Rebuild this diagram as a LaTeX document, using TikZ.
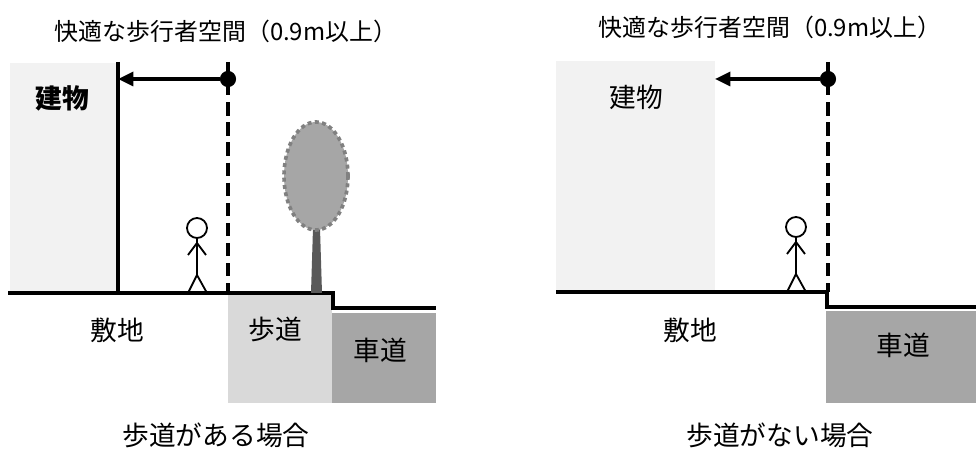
\documentclass[tikz,border=0pt]{standalone}
\usepackage{fontspec}
\setmainfont{Noto Sans CJK JP}
\usepackage{xcolor}
\usetikzlibrary{arrows.meta}

\definecolor{bldg}{HTML}{F2F2F2}
\definecolor{sidewalk}{HTML}{D9D9D9}
\definecolor{road}{HTML}{A6A6A6}
\definecolor{leaf}{HTML}{A6A6A6}
\definecolor{leafedge}{HTML}{808080}
\definecolor{bark}{HTML}{595959}

\tikzset{
	walker/.pic={
		\draw[man] (0,0) circle[radius=10];
		\draw[man] (0,10) -- (0,47) (-9,27) -- (0,15) -- (9,27) (-9,65) -- (0,47) -- (10,65);
	}
}

\begin{document}
\begin{tikzpicture}[x=0.025cm, y=-0.025cm,
	lbl/.style={font=\fontsize{19pt}{22pt}\selectfont, inner sep=0pt},
	ttl/.style={font=\fontsize{17pt}{20pt}\selectfont, inner sep=0pt},
	wall/.style={line width=2.2pt},
	grnd/.style={line width=2.2pt},
	limit/.style={line width=2.4pt, dash pattern=on 9.5pt off 4.8pt},
	walk/.style={line width=2.2pt, -{Triangle[length=11pt, width=10pt]}},
	pin/.style={circle, fill=black, inner sep=0pt, minimum size=11.5pt},
	man/.style={line width=1.3pt},
	crown/.style={fill=leaf, draw=leafedge, line width=2.6pt, dash pattern=on 2.8pt off 2.4pt},
]
	\useasboundingbox (0,0) rectangle (976,451);

	% with a sidewalk
	\fill[bldg] (10,63) rectangle (118,293);
	\fill[sidewalk] (228,293) rectangle (332,403);
	\fill[road] (332,313) rectangle (436,403);
	\draw[wall] (118,62) -- (118,293);
	\draw[limit] (228,62) -- (228,293);
	\draw[grnd] (8,293) -- (333,293) -- (333,308) -- (436,308);

	\fill[bark] (313,228) -- (320,228) -- (322,293) -- (311,293) -- cycle;
	\draw[crown] (316,176) ellipse [x radius=32, y radius=54];

	\pic at (197,228) {walker};

	\node[pin] (dotL) at (228,79) {};
	\coordinate (wallL) at (118,79);
	\draw[walk] (dotL) -- (wallL);

	\node[ttl] (titleL) at (226,31) {快適な歩行者空間（0.9m以上）};
	\node[lbl] (bldgL) at (62,98) {\bfseries 建物};
	\node[lbl] (siteL) at (117,330) {敷地};
	\node[lbl] (sidewalkL) at (275,329) {歩道};
	\node[lbl] (roadL) at (380,350) {車道};
	\node[lbl] (capL) at (216,435) {歩道がある場合};

	% without a sidewalk
	\fill[bldg] (556,61) rectangle (715,292);
	\fill[road] (826,311) rectangle (976,403);
	\draw[limit] (828,62) -- (828,292);
	\draw[grnd] (556,292) -- (827,292) -- (827,307) -- (976,307);

	\pic at (796,227) {walker};

	\node[pin] (dotR) at (828,79) {};
	\coordinate (wallR) at (715,79);
	\draw[walk] (dotR) -- (wallR);

	\node[ttl] (titleR) at (770,27) {快適な歩行者空間（0.9m以上）};
	\node[lbl] (bldgR) at (636,97) {建物};
	\node[lbl] (siteR) at (690,330) {敷地};
	\node[lbl] (roadR) at (903,345) {車道};
	\node[lbl] (capR) at (780,435) {歩道がない場合};
\end{tikzpicture}
\end{document}
